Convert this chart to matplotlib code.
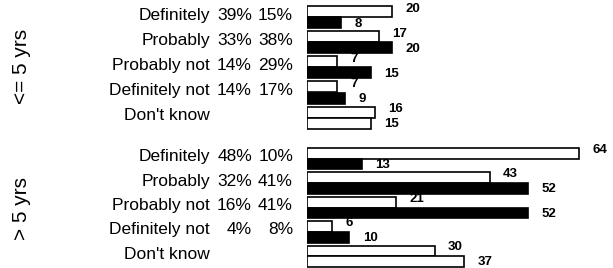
import matplotlib
matplotlib.use("Agg")
import matplotlib.pyplot as plt
from matplotlib.transforms import blended_transform_factory

plt.rcParams['font.family'] = ['Liberation Sans', 'DejaVu Sans']

categories = ["Definitely", "Probably", "Probably not", "Definitely not", "Don't know"]
groups = ["<= 5 yrs", "> 5 yrs"]

# percentages shown next to labels (first, second)
pct_le5_a = ["39%", "33%", "14%", "14%", ""]
pct_le5_b = ["15%", "38%", "29%", "17%", ""]
pct_gt5_a = ["48%", "32%", "16%", "4%", ""]
pct_gt5_b = ["10%", "41%", "41%", "8%", ""]

# bar values: first (white) and second (dark) bar per category
le5_first = [20, 17, 7, 7, 16]
le5_second = [8, 20, 15, 9, 15]
gt5_first = [64, 43, 21, 6, 30]
gt5_second = [13, 52, 52, 10, 37]

W, H = 613, 268
fig = plt.figure(figsize=(W / 100, H / 100), dpi=100)

x0 = 307
scale = 4.25  # px per unit
ax_w = W - x0 - 3
panels = [
    (groups[0], pct_le5_a, pct_le5_b, le5_first, le5_second, 5, 130, 66),
    (groups[1], pct_gt5_a, pct_gt5_b, gt5_first, gt5_second, 146.5, 268.5, 208),
]

for gname, pa, pb, v1, v2, ytop, ybot, gy in panels:
    ax = fig.add_axes([x0 / W, (H - ybot) / H, ax_w / W, (ybot - ytop) / H])
    ax.set_xlim(0, ax_w / scale)
    ax.set_ylim(4.5, -0.5)
    ax.axis('off')
    n = len(categories)
    y1 = [i - 0.22 for i in range(n)]
    y2 = [i + 0.22 for i in range(n)]
    c2 = ['black'] * (n - 1) + ['white']
    ax.barh(y1, v1, height=0.44, color='white', edgecolor='black', linewidth=1.2)
    ax.barh(y2, v2, height=0.44, color=c2, edgecolor='black', linewidth=1.2)
    for yy, vv in zip(y1, v1):
        ax.annotate(str(vv), (vv, yy), xytext=(9.5, 2.5), textcoords='offset points',
                    ha='left', va='center', fontsize=9.5, fontweight='bold')
    for yy, vv in zip(y2, v2):
        ax.annotate(str(vv), (vv, yy), xytext=(9.5, -0.5), textcoords='offset points',
                    ha='left', va='center', fontsize=9.5, fontweight='bold')
    tr = blended_transform_factory(fig.transFigure, ax.transData)
    for i, cat in enumerate(categories):
        ax.text(210 / W, i - 0.08, cat, transform=tr, ha='right', va='center', fontsize=12.5)
        ax.text(252 / W, i - 0.08, pa[i], transform=tr, ha='right', va='center', fontsize=12.5)
        ax.text(293 / W, i - 0.08, pb[i], transform=tr, ha='right', va='center', fontsize=12.5)
    fig.text(22 / W, 1 - gy / H, gname, rotation=90,
             ha='center', va='center', fontsize=15)

fig.savefig("out.png", dpi=100)
